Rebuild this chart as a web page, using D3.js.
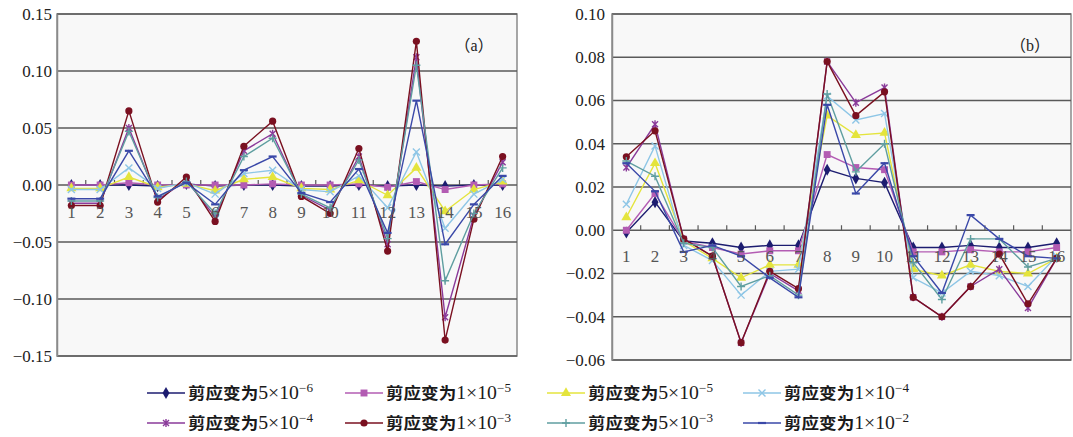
<!DOCTYPE html>
<html><head><meta charset="utf-8">
<script src="https://cdn.jsdelivr.net/npm/d3@7/dist/d3.min.js"></script>
<style>html,body{margin:0;padding:0;background:#fff;}svg{display:block;}</style>
</head><body>
<svg id="chart" width="1073" height="437"></svg>
<script>
// ---------- data ----------
const categories = ["1","2","3","4","5","6","7","8","9","10","11","12","13","14","15","16"];
const seriesExp = ["5×10|−6","1×10|−5","5×10|−5","1×10|−4","5×10|−4","1×10|−3","5×10|−3","1×10|−2"];

const ticksA = [0.15, 0.10, 0.05, 0.00, -0.05, -0.10, -0.15];
const ticksB = [0.10, 0.08, 0.06, 0.04, 0.02, 0.00, -0.02, -0.04, -0.06];

// panel (a)
const a_5e6 = [0.000,0.000,0.000,-0.001,0.001,-0.001,0.000,0.000,-0.001,-0.001,0.000,-0.001,0.000,-0.001,0.000,0.000];
const a_1e5 = [0.000,0.000,0.002,0.000,0.000,0.000,0.000,0.001,0.000,0.000,0.001,-0.002,0.003,-0.004,0.000,0.001];
const a_5e5 = [-0.003,-0.003,0.007,-0.002,0.001,-0.005,0.005,0.007,-0.003,-0.004,0.004,-0.009,0.015,-0.023,-0.004,0.003];
const a_1e4 = [-0.004,-0.004,0.015,-0.003,0.002,-0.008,0.010,0.013,-0.004,-0.006,0.008,-0.020,0.029,-0.038,-0.008,0.005];
const a_5e4 = [-0.016,-0.016,0.050,-0.013,0.004,-0.028,0.030,0.045,-0.009,-0.022,0.025,-0.052,0.112,-0.116,-0.027,0.020];
const a_1e3 = [-0.018,-0.018,0.065,-0.015,0.007,-0.032,0.034,0.056,-0.010,-0.025,0.032,-0.058,0.126,-0.136,-0.030,0.025];
const a_5e3 = [-0.014,-0.014,0.047,-0.011,0.003,-0.025,0.025,0.041,-0.008,-0.020,0.022,-0.047,0.105,-0.084,-0.025,0.015];
const a_1e2 = [-0.012,-0.012,0.030,-0.010,0.002,-0.017,0.013,0.025,-0.007,-0.015,0.014,-0.042,0.074,-0.052,-0.017,0.008];

// panel (b)
const b_5e6 = [-0.001,0.013,-0.005,-0.006,-0.008,-0.007,-0.007,0.028,0.024,0.022,-0.008,-0.008,-0.007,-0.008,-0.008,-0.006];
const b_1e5 = [0.000,0.017,-0.005,-0.008,-0.011,-0.0095,-0.0095,0.035,0.029,0.028,-0.010,-0.010,-0.009,-0.010,-0.010,-0.008];
const b_5e5 = [0.006,0.031,-0.005,-0.013,-0.022,-0.016,-0.016,0.053,0.044,0.045,-0.018,-0.021,-0.016,-0.019,-0.020,-0.013];
const b_1e4 = [0.012,0.039,-0.007,-0.014,-0.030,-0.019,-0.018,0.062,0.051,0.054,-0.022,-0.029,-0.019,-0.021,-0.026,-0.012];
const b_5e4 = [0.029,0.049,-0.004,-0.012,-0.052,-0.020,-0.028,0.078,0.059,0.066,-0.031,-0.040,-0.026,-0.018,-0.036,-0.013];
const b_1e3 = [0.034,0.046,-0.004,-0.012,-0.052,-0.019,-0.027,0.078,0.053,0.064,-0.031,-0.040,-0.026,-0.011,-0.034,-0.013];
const b_5e3 = [0.032,0.025,-0.006,-0.008,-0.026,-0.021,-0.030,0.063,0.027,0.040,-0.015,-0.032,-0.004,-0.004,-0.017,-0.013];
const b_1e2 = [0.031,0.018,-0.010,-0.007,-0.012,-0.022,-0.031,0.058,0.017,0.031,-0.012,-0.029,0.007,-0.004,-0.012,-0.013];

const panelA = [a_5e6,a_1e5,a_5e5,a_1e4,a_5e4,a_1e3,a_5e3,a_1e2];
const panelB = [b_5e6,b_1e5,b_5e5,b_1e4,b_5e4,b_1e3,b_5e3,b_1e2];

// ---------- style ----------
const colors = ["#1c1c70","#b35cb3","#e4e43c","#8ec6e6","#8a3a9a","#7a1020","#5f9ea0","#3a48a8"];
const markers = ["diamond","square","triangle","x","star","circle","plus","dash"];
const serif = "'Liberation Serif','Times New Roman',serif";

const svg = d3.select("#chart");

function drawMarker(g, type, x, y, color) {
  const m = g.append("g").attr("transform", `translate(${x},${y})`);
  if (type === "diamond") m.append("path").attr("d", d3.symbol(d3.symbolDiamond, 42)()).attr("fill", color);
  else if (type === "square") m.append("path").attr("d", d3.symbol(d3.symbolSquare, 48)()).attr("fill", color);
  else if (type === "triangle") m.append("path").attr("d", d3.symbol(d3.symbolTriangle, 44)()).attr("fill", color);
  else if (type === "circle") m.append("circle").attr("r", 3.6).attr("fill", color);
  else {
    let d = "";
    if (type === "x") d = "M-3.5,-3.5L3.5,3.5M-3.5,3.5L3.5,-3.5";
    if (type === "star") d = "M-3,-3L3,3M-3,3L3,-3M0,-4L0,4";
    if (type === "plus") d = "M-4,0L4,0M0,-4L0,4";
    if (type === "dash") d = "M-4,0L4,0";
    m.append("path").attr("d", d).attr("stroke", color).attr("stroke-width", type === "dash" ? 2.2 : 1.4).attr("fill", "none");
  }
}

function panel(cfg) {
  const g = svg.append("g");
  const x = d3.scaleBand().domain(categories).range([cfg.left, cfg.right]).paddingInner(0).paddingOuter(0);
  const y = d3.scaleLinear().domain([cfg.min, cfg.max]).range([cfg.bottom, cfg.top]);
  const cx = c => x(c) + x.bandwidth() / 2;

  g.append("rect").attr("x", cfg.left).attr("y", cfg.top)
    .attr("width", cfg.right - cfg.left).attr("height", cfg.bottom - cfg.top)
    .attr("fill", "#f8f8f8").attr("stroke", "#8a8a8a").attr("stroke-width", 1.5);

  // gridlines
  g.selectAll(".grid").data(cfg.ticks).join("line")
    .attr("x1", cfg.left).attr("x2", cfg.right)
    .attr("y1", d => y(d)).attr("y2", d => y(d))
    .attr("stroke", "#5a5a5a").attr("stroke-width", 1.5);

  // y axis labels
  const yAxis = d3.axisLeft(y).tickValues(cfg.ticks).tickSize(0).tickPadding(cfg.pad)
    .tickFormat(d => (d < 0 ? "\u2212" : "") + d3.format(".2f")(Math.abs(d)));
  const ya = g.append("g").attr("transform", `translate(${cfg.left},0)`).call(yAxis);
  ya.select(".domain").attr("stroke", "#8a8a8a").attr("stroke-width", 1.5);
  ya.selectAll("text").attr("font-family", serif).attr("font-size", 17).attr("fill", "#222");

  // x ticks at category boundaries along zero line
  const bounds = categories.slice(1).map(c => x(c));
  g.selectAll(".xt").data(bounds).join("line")
    .attr("x1", d => d).attr("x2", d => d)
    .attr("y1", y(0)).attr("y2", y(0) - 5)
    .attr("stroke", "#5a5a5a").attr("stroke-width", 1.2);

  // series
  cfg.data.forEach((vals, i) => {
    const line = d3.line().x((d, j) => cx(categories[j])).y(d => y(d));
    g.append("path").datum(vals).attr("d", line)
      .attr("fill", "none").attr("stroke", colors[i]).attr("stroke-width", 1.4);
    vals.forEach((v, j) => drawMarker(g, markers[i], cx(categories[j]), y(v), colors[i]));
  });

  // x labels
  g.selectAll(".xl").data(categories).join("text")
    .attr("x", d => cx(d)).attr("y", y(0) + cfg.labelDy)
    .attr("text-anchor", "middle")
    .attr("font-family", serif).attr("font-size", 17).attr("fill", "#555")
    .text(d => d);

  // panel tag
  g.append("text").attr("x", cfg.tagX).attr("y", cfg.tagY)
    .attr("font-family", serif + ",'Noto Sans CJK SC'").attr("font-size", 16).attr("fill", "#222")
    .attr("text-anchor", "middle").text(cfg.tag);
}

panel({left: 57, right: 517, top: 14, bottom: 356, min: -0.15, max: 0.15, ticks: ticksA, data: panelA,
       pad: 5, labelDy: 33, tag: "（a）", tagX: 474, tagY: 51});
panel({left: 612, right: 1071, top: 14, bottom: 360, min: -0.06, max: 0.10, ticks: ticksB, data: panelB,
       pad: 7, labelDy: 32, tag: "（b）", tagX: 1030, tagY: 51});

// ---------- legend ----------
const legX = [147, 345, 547, 743];
const legY = [393, 423];
seriesExp.forEach((s, i) => {
  const col = i % 4, row = Math.floor(i / 4);
  const lx = legX[col], ly = legY[row];
  const g = svg.append("g");
  g.append("line").attr("x1", lx).attr("x2", lx + 38).attr("y1", ly).attr("y2", ly)
    .attr("stroke", colors[i]).attr("stroke-width", 1.6);
  drawMarker(g, markers[i], lx + 19, ly, colors[i]);
  const [base, sup] = s.split("|");
  const t = g.append("text").attr("x", lx + 41).attr("y", ly + 6).attr("fill", "#1a1a1a")
    .attr("textLength", 125).attr("lengthAdjust", "spacingAndGlyphs");
  t.append("tspan").attr("font-family", "'Noto Sans CJK SC'").attr("font-weight", 700).attr("font-size", 16).text("剪应变为");
  t.append("tspan").attr("font-family", serif).attr("font-size", 18).text(base);
  t.append("tspan").attr("font-family", serif).attr("font-size", 12).attr("dy", -7).text(sup);
});
</script>
</body></html>
